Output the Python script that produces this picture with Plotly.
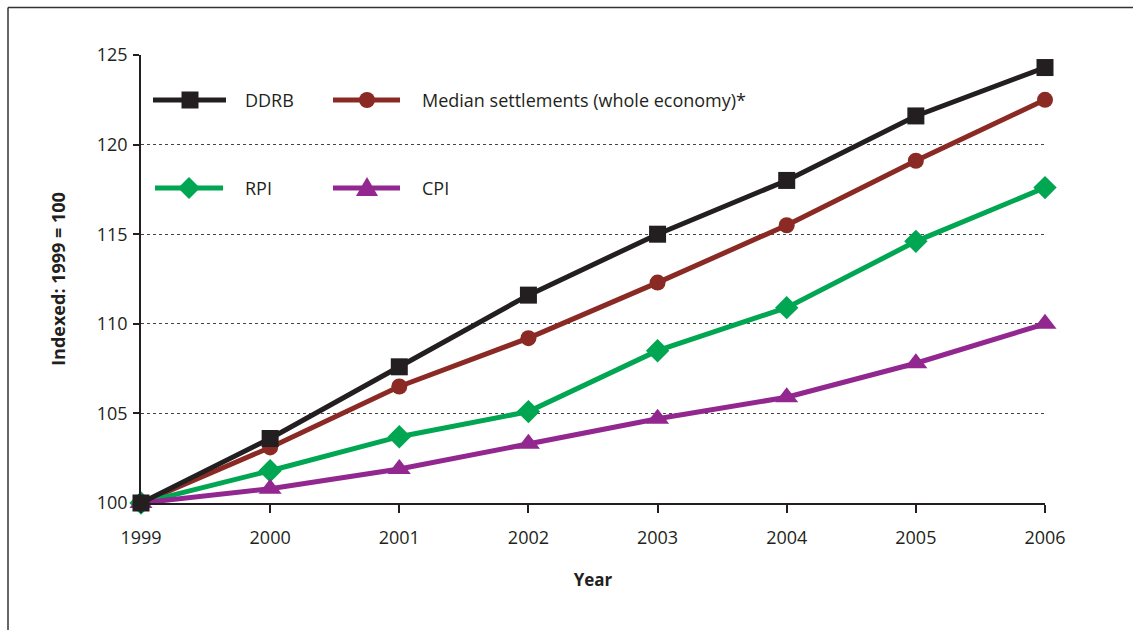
import plotly.graph_objects as go

years = [1999, 2000, 2001, 2002, 2003, 2004, 2005, 2006]
ddrb = [100, 103.6, 107.6, 111.6, 115.0, 118.0, 121.6, 124.3]
median = [100, 103.1, 106.5, 109.2, 112.3, 115.5, 119.1, 122.5]
rpi = [100, 101.8, 103.7, 105.1, 108.5, 110.9, 114.6, 117.6]
cpi = [100, 100.8, 101.9, 103.3, 104.7, 105.9, 107.8, 110.0]
y_ticks = [100, 105, 110, 115, 120, 125]

names = ["DDRB", "Median settlements (whole economy)*", "RPI", "CPI"]
colors = ["#231F20", "#8B2A25", "#00A651", "#92278F"]
symbols = ["square", "circle", "diamond", "triangle-up"]
sizes = [17, 16, 18, 20]
series = [ddrb, median, rpi, cpi]

W, H = 1133, 630
L, R, T, B = 141, 88, 55, 127
PW, PH = W - L - R, H - T - B

def px(x):
    return (x - L) / PW

def py(y):
    return (H - B - y) / PH

FONT = "Open Sans"
fig = go.Figure()
order = [1, 2, 3, 0]
for i in order:
    fig.add_trace(go.Scatter(
        x=years, y=series[i], name=names[i], mode="lines+markers",
        line=dict(color=colors[i], width=5),
        marker=dict(symbol=symbols[i], size=sizes[i], color=colors[i]),
        showlegend=False, cliponaxis=False,
    ))

shapes = []
annotations = []
# frame (top and left edges)
shapes.append(dict(type="line", xref="paper", yref="paper", x0=px(8), x1=px(1140), y0=py(7.5), y1=py(7.5),
                   line=dict(color="#333333", width=1.5)))
shapes.append(dict(type="line", xref="paper", yref="paper", x0=px(8), x1=px(8), y0=py(7.5), y1=py(640),
                   line=dict(color="#333333", width=1.5)))

# manual legend
leg = [
    (153, 226, 190, 100, 243),
    (333, 400, 367, 100, 420),
    (155, 223, 189, 188, 243),
    (333, 400, 367, 188, 420),
]
for (x0, x1, xm, yy, xt), n, c, sym in zip(leg, names, colors, symbols):
    shapes.append(dict(type="line", xref="paper", yref="paper", x0=px(x0), x1=px(x1), y0=py(yy), y1=py(yy),
                       line=dict(color=c, width=5)))
    if sym == "square":
        h = 8.5
        shapes.append(dict(type="rect", xref="paper", yref="paper", x0=px(xm - h), x1=px(xm + h),
                           y0=py(yy - h), y1=py(yy + h), fillcolor=c, line=dict(width=0)))
    elif sym == "circle":
        h = 8
        shapes.append(dict(type="circle", xref="paper", yref="paper", x0=px(xm - h), x1=px(xm + h),
                           y0=py(yy - h), y1=py(yy + h), fillcolor=c, line=dict(width=0)))
    elif sym == "diamond":
        h = 11
        path = f"M{px(xm-h)},{py(yy)} L{px(xm)},{py(yy-h)} L{px(xm+h)},{py(yy)} L{px(xm)},{py(yy+h)} Z"
        shapes.append(dict(type="path", xref="paper", yref="paper", path=path, fillcolor=c, line=dict(width=0)))
    else:
        h = 11
        path = f"M{px(xm-h)},{py(yy+8)} L{px(xm)},{py(yy-11)} L{px(xm+h)},{py(yy+8)} Z"
        shapes.append(dict(type="path", xref="paper", yref="paper", path=path, fillcolor=c, line=dict(width=0)))
    annotations.append(dict(xref="paper", yref="paper", x=px(xt), y=py(yy), text=n, showarrow=False,
                            xanchor="left", yanchor="middle", font=dict(family=FONT, size=18, color="#231F20")))

fig.update_layout(
    width=W, height=H,
    margin=dict(l=L, r=R, t=T, b=B, pad=0),
    paper_bgcolor="white", plot_bgcolor="white",
    font=dict(family=FONT, size=18, color="#231F20"),
    shapes=shapes, annotations=annotations,
    xaxis=dict(
        range=[1999, 2006], tickvals=years, ticktext=[str(y) for y in years],
        showgrid=False, zeroline=False, showline=True, linecolor="#231F20", linewidth=1.5,
        ticks="outside", ticklen=8, tickwidth=1.5, tickcolor="#231F20", ticklabelstandoff=10,
        title=dict(text="<b>Year</b>", font=dict(family=FONT, size=17), standoff=26),
        tickfont=dict(family=FONT, size=18),
    ),
    yaxis=dict(
        range=[100, 125], tickvals=y_ticks,
        showgrid=True, gridcolor="#444444", griddash="dot", gridwidth=1,
        zeroline=False, showline=True, linecolor="#231F20", linewidth=1.5,
        ticks="outside", ticklen=6, tickwidth=1.5, tickcolor="#231F20", ticklabelstandoff=2,
        title=dict(text="<b>Indexed: 1999 = 100</b>", font=dict(family=FONT, size=18), standoff=26),
        tickfont=dict(family=FONT, size=18),
    ),
)
fig.write_html("out.html")
